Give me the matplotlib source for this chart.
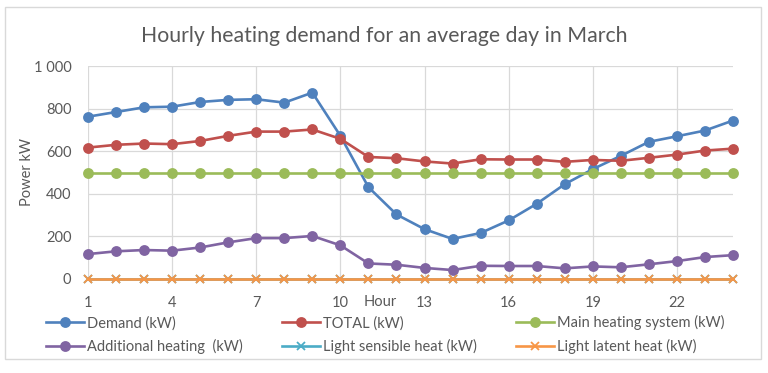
import numpy as np
import matplotlib
matplotlib.use("Agg")
import matplotlib.pyplot as plt
from matplotlib.patches import Rectangle
from matplotlib.ticker import FuncFormatter

plt.rcParams['font.family'] = ['Lato', 'DejaVu Sans']

hours = np.arange(1, 25)
demand = [762, 784, 806, 809, 831, 841, 844, 828, 875, 672, 431, 303,
          234, 188, 216, 275, 353, 445, 516, 578, 644, 670, 697, 744]
total = [617, 630, 636, 633, 648, 672, 692, 692, 702, 658, 573, 567,
         552, 542, 562, 561, 561, 550, 559, 555, 569, 584, 603, 612]
main_heat = [500] * 24
additional = [117, 130, 136, 133, 148, 172, 192, 192, 202, 158, 73, 67,
              52, 42, 62, 61, 61, 50, 59, 55, 69, 84, 103, 112]
light_sensible = [0] * 24
light_latent = [0] * 24

labels = ["Demand (kW)", "TOTAL (kW)", "Main heating system (kW)",
          "Additional heating  (kW)", "Light sensible heat (kW)", "Light latent heat (kW)"]
colors = ["#4F81BD", "#C0504D", "#9BBB59", "#8064A2", "#4BACC6", "#F79646"]
series = [demand, total, main_heat, additional, light_sensible, light_latent]
markers = ["o", "o", "o", "o", "x", "x"]

txt = "#595959"
fig = plt.figure(figsize=(7.68, 3.73), dpi=100)
ax = fig.add_axes([88/768, 1 - 279/373, (733-88)/768, (279-66)/373])

lines = []
for y, c, m, lab in zip(series, colors, markers, labels):
    ms = 6.5 if m == "o" else 6
    ln, = ax.plot(hours, y, color=c, lw=1.9, marker=m, ms=ms, mew=1.3,
                  label=lab, clip_on=False, zorder=3)
    lines.append(ln)

ax.set_xlim(1, 24)
ax.set_ylim(0, 1000)
ax.set_xticks([1, 4, 7, 10, 13, 16, 19, 22])
ax.set_yticks(range(0, 1001, 200))
ax.yaxis.set_major_formatter(FuncFormatter(lambda v, p: f"{int(v):,}".replace(",", " ")))
ax.grid(True, color="#D9D9D9", lw=0.9)
ax.set_axisbelow(True)
for s in ax.spines.values():
    s.set_visible(False)
ax.tick_params(length=0, colors=txt, labelsize=10.5)
ax.tick_params(axis="x", pad=12)
ax.tick_params(axis="y", pad=12)
ax.set_ylabel("Power kW", color=txt, fontsize=10.5)
ax.yaxis.set_label_coords(-0.083, 0.5)
ax.text(0.453, -0.108, "Hour", transform=ax.transAxes, ha="center", va="center",
        color=txt, fontsize=10.5)

fig.text(0.5, 1 - 36/373, "Hourly heating demand for an average day in March",
         ha="center", va="center", color=txt, fontsize=15.3)

order = [0, 3, 1, 4, 2, 5]
fig.legend([lines[i] for i in order], [labels[i] for i in order], ncol=3,
           loc="lower left", bbox_to_anchor=(40/768, 1 - 360/373, 690/768, 55/373),
           mode="expand", frameon=False, fontsize=10.5, handlelength=2.6,
           handletextpad=0.2, labelcolor=txt, borderaxespad=0, labelspacing=0.6)

fig.patches.append(Rectangle((5/768, 1 - 359/373), 756/768, 352/373,
                             transform=fig.transFigure, fill=False,
                             edgecolor="#D9D9D9", lw=1))

plt.savefig("out.png", dpi=100)
